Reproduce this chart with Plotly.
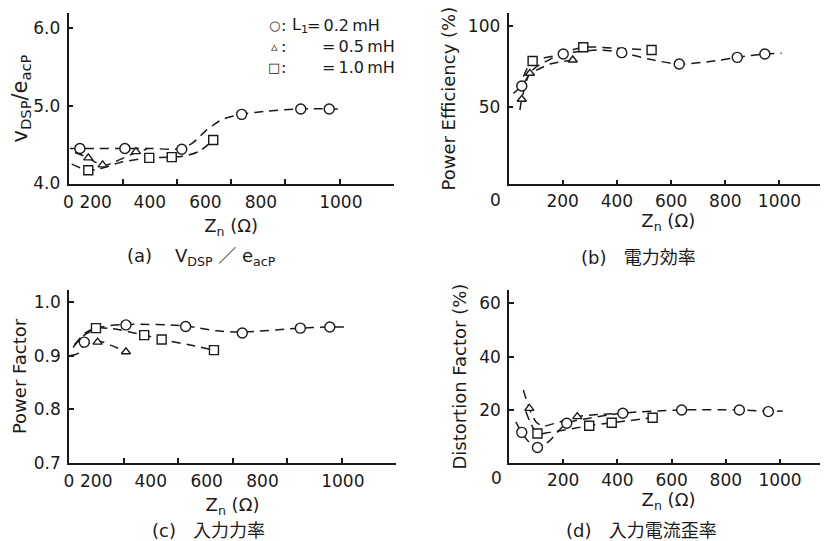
import plotly.graph_objects as go

# The page body keeps an 8 px margin, so the figure is 8 px smaller than the
# 828x541 window and every screen position below is shifted by OFF.
OFF = 8
FW, FH = 828 - OFF, 541 - OFF

# ---------------- data ----------------
ZN_TICKS = [200, 400, 600, 800, 1000]
ZN_TICK_TEXT = ["200", "400", "600", "800", "1000"]
# the left-hand panels print their x labels off the tick marks
LEFT_LABEL_TEXT = ["0", "200", "400", "600", "800", "1000"]
LEFT_LABEL_AT = [0, 100, 300, 505, 710, 1005]

# (a) V_DSP / e_acP
A_CIRCLE_ZN = [42, 208, 418, 639, 857, 962]
A_CIRCLE_V = [4.45, 4.45, 4.44, 4.89, 4.96, 4.96]
A_TRI_ZN = [73, 126, 249]
A_TRI_V = [4.33, 4.24, 4.41]
A_SQ_ZN = [73, 298, 381, 534]
A_SQ_V = [4.17, 4.33, 4.34, 4.56]
A_CIRCLE_FIT_ZN = [5, 100, 200, 300, 418, 461, 510, 571, 639, 731, 857, 1014]
A_CIRCLE_FIT_V = [4.45, 4.45, 4.45, 4.45, 4.45, 4.53, 4.69, 4.83, 4.89, 4.93, 4.96, 4.96]
A_TRI_FIT_ZN = [24, 73, 126, 178, 249, 288]
A_TRI_FIT_V = [4.40, 4.33, 4.23, 4.29, 4.40, 4.44]
A_SQ_FIT_ZN = [12, 73, 116, 190, 298, 381, 436, 485, 534]
A_SQ_FIT_V = [4.25, 4.17, 4.19, 4.27, 4.33, 4.34, 4.36, 4.42, 4.56]

# (b) power efficiency (%)
B_CIRCLE_ZN = [49, 202, 418, 630, 844, 946]
B_CIRCLE_E = [63.1, 82.8, 83.6, 76.6, 80.7, 82.8]
B_TRI_ZN = [49, 79, 237]
B_TRI_E = [54.9, 70.9, 79.1]
B_SQ_ZN = [89, 276, 528]
B_SQ_E = [78.5, 86.9, 85.2]
B_CIRCLE_FIT_ZN = [18, 49, 92, 153, 202, 338, 418, 522, 630, 768, 844, 946, 1008]
B_CIRCLE_FIT_E = [58.6, 63.1, 73.4, 79.5, 82.8, 85.2, 83.6, 79.5, 76.6, 78.7, 80.7, 82.8, 83.2]
B_TRI_FIT_ZN = [42, 49, 79, 110, 153, 237]
B_TRI_FIT_E = [48.3, 54.9, 70.9, 73.4, 76.6, 79.1]
B_SQ_FIT_ZN = [55, 89, 165, 276, 399, 528]
B_SQ_FIT_E = [68.8, 78.5, 81.5, 86.9, 86.3, 85.2]

# (c) power factor
C_CIRCLE_ZN = [56, 209, 428, 636, 849, 957]
C_CIRCLE_PF = [0.925, 0.957, 0.954, 0.942, 0.951, 0.953]
C_TRI_ZN = [105, 209]
C_TRI_PF = [0.925, 0.907]
C_SQ_ZN = [99, 276, 340, 532]
C_SQ_PF = [0.951, 0.938, 0.930, 0.910]
C_CIRCLE_FIT_ZN = [15, 56, 120, 209, 428, 540, 636, 849, 957, 1010]
C_CIRCLE_FIT_PF = [0.915, 0.938, 0.953, 0.958, 0.955, 0.946, 0.944, 0.951, 0.953, 0.953]
C_TRI_FIT_ZN = [5, 30, 56, 105, 160, 209]
C_TRI_FIT_PF = [0.900, 0.903, 0.918, 0.927, 0.918, 0.907]
C_SQ_FIT_ZN = [20, 60, 99, 160, 276, 340, 440, 532]
C_SQ_FIT_PF = [0.920, 0.942, 0.951, 0.950, 0.938, 0.930, 0.920, 0.910]

# (d) distortion factor (%)
D_CIRCLE_ZN = [47, 105, 213, 420, 637, 850, 957]
D_CIRCLE_DF = [11.6, 5.9, 15.0, 18.8, 20.0, 20.0, 19.4]
D_TRI_ZN = [75, 252]
D_TRI_DF = [20.6, 17.5]
D_SQ_ZN = [105, 296, 379, 530]
D_SQ_DF = [11.2, 14.1, 15.2, 17.1]
D_CIRCLE_FIT_ZN = [25, 47, 80, 110, 150, 213, 300, 420, 637, 850, 957, 1010]
D_CIRCLE_FIT_DF = [15.5, 11.6, 7.3, 5.8, 8.5, 15.0, 17.0, 18.8, 20.0, 20.0, 19.5, 19.6]
D_TRI_FIT_ZN = [53, 75, 100, 125, 180, 252, 330, 420]
D_TRI_FIT_DF = [27.5, 20.6, 15.5, 14.0, 15.3, 17.5, 18.3, 18.8]
D_SQ_FIT_ZN = [62, 80, 105, 150, 296, 379, 530]
D_SQ_FIT_DF = [19.5, 15.0, 11.2, 11.6, 14.1, 15.2, 17.1]

LEGEND_SYMBOLS = ["○", "▵", "□"]
LEGEND_VALUES = ["=\u20090.2\u2009mH", "=\u20090.5\u2009mH", "=\u20091.0\u2009mH"]
CAPTIONS = [
    "(a)\u00a0\u00a0\u00a0\u00a0V<sub>DSP</sub>\u00a0／\u00a0e<sub>acP</sub>",
    "(b)\u00a0\u00a0\u00a0電力効率",
    "(c)\u00a0\u00a0\u00a0入力力率",
    "(d)\u00a0\u00a0\u00a0入力電流歪率",
]

# ---------------- styling ----------------
INK = "#1a1a1a"
FONT = "DejaVu Sans"
CJK = "DejaVu Sans, Noto Sans CJK JP"
DASH = "9px,6px"


def px(x):
    return (x - OFF) / FW


def py(y):
    return 1 - (y - OFF) / FH


fig = go.Figure()


def add_panel(xa, ya, fits, points):
    for fx, fy in fits:
        fig.add_trace(go.Scatter(
            x=fx, y=fy, mode="lines", xaxis=xa, yaxis=ya,
            line=dict(color=INK, width=1.5, dash=DASH, shape="spline", smoothing=0.8),
            hoverinfo="skip", showlegend=False, cliponaxis=False))
    for (zx, zy), sym, size in zip(points, ["circle", "triangle-up", "square"], [10, 8, 9]):
        fig.add_trace(go.Scatter(
            x=zx, y=zy, mode="markers", xaxis=xa, yaxis=ya,
            marker=dict(symbol=sym, size=size, color="white",
                        line=dict(color=INK, width=1.4)),
            showlegend=False, cliponaxis=False))


add_panel("x", "y",
          [(A_CIRCLE_FIT_ZN, A_CIRCLE_FIT_V), (A_TRI_FIT_ZN, A_TRI_FIT_V), (A_SQ_FIT_ZN, A_SQ_FIT_V)],
          [(A_CIRCLE_ZN, A_CIRCLE_V), (A_TRI_ZN, A_TRI_V), (A_SQ_ZN, A_SQ_V)])
add_panel("x2", "y2",
          [(B_CIRCLE_FIT_ZN, B_CIRCLE_FIT_E), (B_TRI_FIT_ZN, B_TRI_FIT_E), (B_SQ_FIT_ZN, B_SQ_FIT_E)],
          [(B_CIRCLE_ZN, B_CIRCLE_E), (B_TRI_ZN, B_TRI_E), (B_SQ_ZN, B_SQ_E)])
add_panel("x3", "y3",
          [(C_CIRCLE_FIT_ZN, C_CIRCLE_FIT_PF), (C_TRI_FIT_ZN, C_TRI_FIT_PF), (C_SQ_FIT_ZN, C_SQ_FIT_PF)],
          [(C_CIRCLE_ZN, C_CIRCLE_PF), (C_TRI_ZN, C_TRI_PF), (C_SQ_ZN, C_SQ_PF)])
add_panel("x4", "y4",
          [(D_CIRCLE_FIT_ZN, D_CIRCLE_FIT_DF), (D_TRI_FIT_ZN, D_TRI_FIT_DF), (D_SQ_FIT_ZN, D_SQ_FIT_DF)],
          [(D_CIRCLE_ZN, D_CIRCLE_DF), (D_TRI_ZN, D_TRI_DF), (D_SQ_ZN, D_SQ_DF)])
# empty carriers for the label-only axes of panels (a) and (c)
fig.add_trace(go.Scatter(x=[], y=[], xaxis="x5", yaxis="y", showlegend=False))
fig.add_trace(go.Scatter(x=[], y=[], xaxis="x6", yaxis="y3", showlegend=False))

tickfont = dict(family=FONT, size=17, color=INK)
titlefont = dict(family=FONT, size=18, color=INK)

axis_common = dict(showline=True, linecolor=INK, linewidth=1.6, ticks="inside",
                   ticklen=5, tickwidth=1.5, tickcolor=INK, showgrid=False,
                   zeroline=False, tickfont=tickfont, fixedrange=True, automargin=False)


def xaxis(dom, rng, anchor, show_labels, standoff):
    d = dict(axis_common)
    d.update(domain=[px(dom[0]), min(1.0, px(dom[1]))], range=rng, anchor=anchor,
             tickmode="array", tickvals=ZN_TICKS, ticktext=ZN_TICK_TEXT,
             showticklabels=show_labels, ticklabelstandoff=0,
             title=dict(text="Z<sub>n</sub> (Ω)", font=titlefont, standoff=standoff))
    return d


def yaxis(dom, rng, anchor, vals, fmt, title, standoff, size=18):
    d = dict(axis_common)
    d.update(domain=[py(dom[1]), py(dom[0])], range=rng, anchor=anchor,
             tickmode="array", tickvals=vals, tickformat=fmt, ticklabelstandoff=3,
             title=dict(text=title, font=dict(family=FONT, size=size, color=INK),
                        standoff=standoff))
    return d


def label_axis(over, anchor):
    return dict(overlaying=over, anchor=anchor, side="bottom", range=[0, 1200],
                tickmode="array", tickvals=LEFT_LABEL_AT, ticktext=LEFT_LABEL_TEXT,
                ticks="", showline=False, showgrid=False, zeroline=False,
                tickfont=tickfont, ticklabelstandoff=6, fixedrange=True, automargin=False)


fig.update_layout(
    width=FW, height=FH, autosize=False,
    margin=dict(l=0, r=0, t=0, b=0),
    paper_bgcolor="white", plot_bgcolor="white",
    showlegend=False,
    xaxis=xaxis((68.5, 393.7), [0, 1200], "y", False, 35),
    yaxis=yaxis((13.4, 183.5), [4.0, 6.19], "x", [4, 5, 6], ".1f",
                "v<sub>DSP</sub>/e<sub>acP</sub>", 0, size=21),
    xaxis2=xaxis((508.5, 828), [0, 1179], "y2", True, 3),
    yaxis2=yaxis((13, 184.3), [2.6, 108], "x2", [50, 100], "d",
                 "Power Efficiency (%)", 8),
    xaxis3=xaxis((69, 396), [0, 1200], "y3", False, 35),
    yaxis3=yaxis((290, 463), [0.7, 1.022], "x3", [0.7, 0.8, 0.9, 1.0], ".1f",
                 "Power Factor", 2),
    xaxis4=xaxis((509, 828), [0, 1177], "y4", True, 3),
    yaxis4=yaxis((290, 463.3), [0, 65], "x4", [20, 40, 60], "d",
                 "Distortion Factor (%)", 8),
    xaxis5=label_axis("x", "y"),
    xaxis6=label_axis("x3", "y3"),
)

annotations = []
# stray "0" labels at the lower left of the right-hand panels
for zx, zy in [(495, 200), (496, 478)]:
    annotations.append(dict(text="0", xref="paper", yref="paper", x=px(zx), y=py(zy),
                            showarrow=False, font=tickfont, xanchor="center", yanchor="middle"))
# legend block in panel (a)
LEG_FONT = dict(family=FONT, size=16, color=INK)
SYM_FONT = dict(family=FONT, size=13, color=INK)
for i, (s, v) in enumerate(zip(LEGEND_SYMBOLS, LEGEND_VALUES)):
    yy = py(25 + i * 21)
    annotations.append(dict(text=s, xref="paper", yref="paper", x=px(274), y=yy,
                            xanchor="center", yanchor="middle", showarrow=False, font=SYM_FONT))
    annotations.append(dict(text=":", xref="paper", yref="paper", x=px(283), y=yy,
                            xanchor="center", yanchor="middle", showarrow=False, font=LEG_FONT))
    annotations.append(dict(text=v, xref="paper", yref="paper", x=px(305 if i == 0 else 320),
                            y=yy, xanchor="left", yanchor="middle", showarrow=False,
                            font=LEG_FONT))
annotations.append(dict(text="L<sub>1</sub>", xref="paper", yref="paper", x=px(290), y=py(25),
                        xanchor="left", yanchor="middle", showarrow=False, font=LEG_FONT))
# captions
for cap, (cx, cy) in zip(CAPTIONS, [(201, 257), (638, 257), (208, 530), (641, 530)]):
    annotations.append(dict(text=cap, xref="paper", yref="paper", x=px(cx), y=py(cy),
                            xanchor="center", yanchor="middle", showarrow=False,
                            font=dict(family=CJK, size=18, color=INK)))
fig.update_layout(annotations=annotations)

fig.write_html("out.html")
